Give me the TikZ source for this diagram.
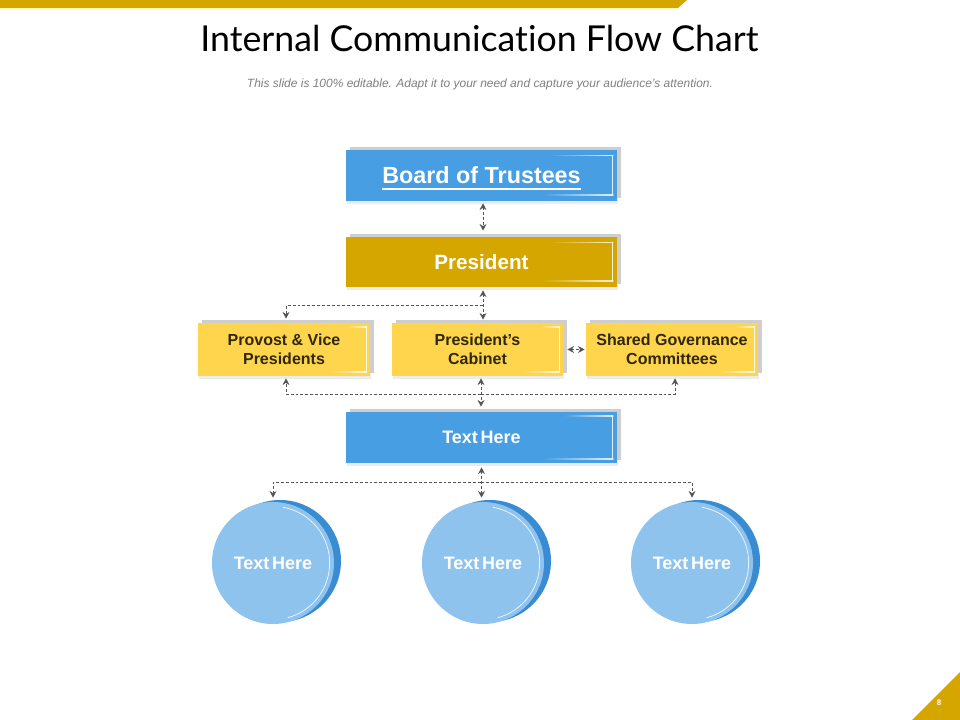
\documentclass[tikz,border=0pt]{standalone}
\usepackage{fontspec}
\setmainfont{Liberation Sans}
\newfontfamily\titlefont[Ligatures={NoCommon,NoContextual}]{Lato}
\newfontfamily\tightfont[WordSpace=0.55]{Liberation Sans}
\usetikzlibrary{arrows.meta,shadows}
\definecolor{gold}{RGB}{214,166,0}
\definecolor{bluebox}{RGB}{71,158,226}
\definecolor{yel}{RGB}{255,213,77}
\definecolor{ytext}{RGB}{48,40,5}
\definecolor{shgrey}{RGB}{206,206,206}
\definecolor{clight}{RGB}{142,195,238}
\definecolor{cdark}{RGB}{58,140,210}
\definecolor{conncol}{RGB}{85,85,85}
\definecolor{subgrey}{RGB}{128,128,128}
\newcommand\myuline[1]{\setbox0\hbox{#1}\rlap{\smash{\raisebox{-4.3pt}{\rule{\wd0}{1.1pt}}}}\box0}
% #1 node, #2 top length, #3 bottom length, #4 right inset, #5 vertical inset, #6 box colour
\newcommand\glintbox[6]{%
  \shade[left color=#6, right color=white!85!#6]
    ([xshift=-#2,yshift=-#5]#1.north east) rectangle ([xshift=-#4,yshift=-#5-0.7pt]#1.north east);
  \fill[white!85!#6]
    ([xshift=-#4-0.7pt,yshift=-#5]#1.north east) rectangle ([xshift=-#4,yshift=#5]#1.south east);
  \shade[left color=#6, right color=white!85!#6]
    ([xshift=-#3,yshift=#5]#1.south east) rectangle ([xshift=-#4,yshift=#5+0.7pt]#1.south east);}
\tikzset{
  conn/.style={draw=conncol, line width=0.75pt, dash pattern=on 2.2pt off 1.5pt},
  >={Stealth[length=5pt,width=5pt,inset=1.6pt]},
  shbox/.style={rectangle, inner sep=0pt, align=center,
    drop shadow={opacity=0.15, shadow xshift=0.5pt, shadow yshift=-2pt},
    general shadow={fill=shgrey, shadow xshift=3pt, shadow yshift=2.25pt}},
  bigbox/.style={shbox, minimum width=203.25pt, minimum height=38.25pt},
  midbox/.style={shbox, minimum width=129pt, minimum height=39.75pt, fill=yel, text=ytext,
    font=\bfseries\fontsize{12}{14.3}\selectfont},
  circd/.style={circle, inner sep=0pt, minimum size=91.5pt, fill=cdark},
  circl/.style={circle, inner sep=0pt, minimum size=91.5pt, fill=clight, text=white,
    font=\tightfont\bfseries\fontsize{13.5}{16}\selectfont},
}
\begin{document}
\begin{tikzpicture}[x=0.75pt,y=0.75pt]
\useasboundingbox (0,0) rectangle (960,-720);
\fill[white] (0,0) rectangle (960,-720);
% top bar
\fill[gold] (0,0) -- (687,0) -- (678,-8) -- (0,-8) -- cycle;
\draw[yellow!30!white, line width=0.75pt] (0,-8.7) -- (677,-8.7);
% page corner
\fill[gold] (912,-720) -- (960,-672) -- (960,-720) -- cycle;
\node[text=white, font=\bfseries\fontsize{6}{7}\selectfont] (pg) at (939,-703) {8};
% title
\node[anchor=base] (title) at (479.5,-52) {\resizebox{418.5pt}{!}{\titlefont\fontsize{26}{30}\selectfont Internal Communication Flow Chart}};
\node[anchor=base, text=subgrey] (sub) at (480,-88) {\resizebox{349.5pt}{!}{\fontsize{8.5}{10}\selectfont\itshape This slide is 100\% editable. Adapt it to your need and capture your audience’s attention.}};
% boxes
\node[bigbox, fill=bluebox, text=white, text depth=0pt, font=\bfseries\fontsize{17.5}{20}\selectfont] (b) at (481.5,-175.5) {\myuline{Board of Trustees}};
\node[bigbox, minimum height=37.5pt, fill=gold, text=white, font=\bfseries\fontsize{15.5}{18}\selectfont] (p) at (481.5,-262) {President};
\node[midbox] (prov) at (284,-349.5) {Provost \& Vice\\Presidents};
\node[midbox, minimum width=128.25pt] (cab) at (477.5,-349.5) {President’s\\Cabinet};
\node[midbox] (sh) at (672,-349.5) {Shared Governance\\Committees};
\node[bigbox, fill=bluebox, text=white, font=\tightfont\bfseries\fontsize{13.5}{16}\selectfont] (th) at (481.5,-437.5) {Text Here};
\glintbox{b}{51pt}{56pt}{3pt}{4pt}{bluebox}
\glintbox{p}{51pt}{56pt}{3pt}{4pt}{gold}
\glintbox{th}{40pt}{56pt}{3pt}{3pt}{bluebox}
\glintbox{prov}{17pt}{30pt}{2.5pt}{3pt}{yel}
\glintbox{cab}{17pt}{30pt}{2.5pt}{3pt}{yel}
\glintbox{sh}{17pt}{30pt}{2.5pt}{3pt}{yel}
% circles
\node[circd] (c1d) at (280,-561) {};
\node[circl] (c1) at (273,-563) {Text Here};
\node[circd] (c2d) at (490,-561) {};
\node[circl] (c2) at (483,-563) {Text Here};
\node[circd] (c3d) at (699,-561) {};
\node[circl] (c3) at (692,-563) {Text Here};
\foreach \c in {c1,c2,c3}{
  \draw[white, line width=0.6pt, opacity=0.8] (\c.center) ++(80:42.5pt) arc[start angle=80, end angle=-75, radius=42.5pt];
}
% connectors
\coordinate (j1) at (483,-306);
\coordinate (j2) at (481,-394);
\coordinate (j3) at (481,-482);
\draw[conn,<->,shorten <=1.5pt,shorten >=4.5pt] ([xshift=1.125pt]b.south) -- ([xshift=1.125pt]p.north);
\draw[conn,<->,shorten <=2.25pt,shorten >=2.25pt] ([xshift=1.125pt]p.south) -- ([xshift=1.125pt]p.south |- cab.north);
\draw[conn,->,shorten >=3pt] (j1) -| ([xshift=1.5pt]prov.north);
\draw[conn,<->,shorten <=3pt,shorten >=0.75pt] (cab.east) -- (sh.west);
\draw[conn,<->,shorten <=1.5pt,shorten >=3.75pt] ([xshift=2.625pt]cab.south) -- ([xshift=2.625pt]cab.south |- th.north);
\draw[conn,->,shorten >=1.5pt] (j2) -| ([xshift=1.5pt]prov.south);
\draw[conn,->,shorten >=1.5pt] (j2) -| ([xshift=2.25pt]sh.south);
\draw[conn,<->,shorten <=3pt,shorten >=3pt] (th.south) -- (th.south |- c2.north);
\draw[conn,->,shorten >=3pt] (j3) -| (c1.north);
\draw[conn,->,shorten >=3pt] (j3) -| (c3.north);
\end{tikzpicture}
\end{document}
